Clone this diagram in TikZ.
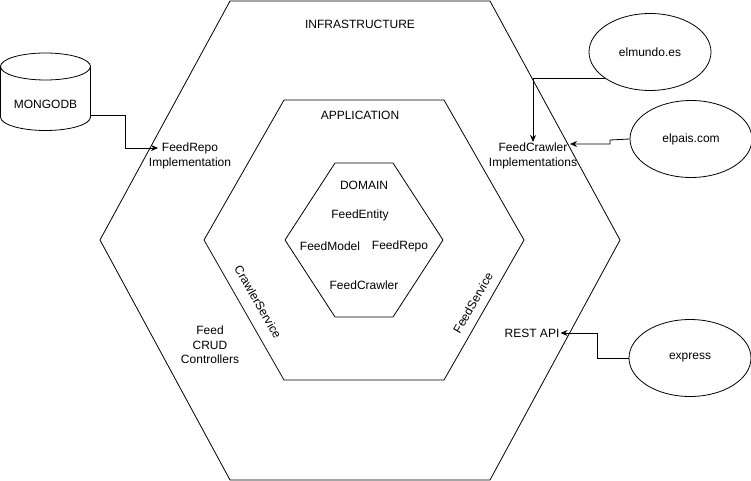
\documentclass[tikz,border=0pt]{standalone}
\usepackage{fontspec}
\setmainfont{Liberation Sans}
\usepackage{tikz}
\usetikzlibrary{calc}
\usetikzlibrary{shapes}
\usetikzlibrary{arrows.meta}

\tikzset{
  lbl/.style={font=\fontsize{12}{14.5}\selectfont,align=center,inner sep=1pt},
  site/.style={draw,ellipse,line width=0.8pt,minimum width=122pt,minimum height=77pt,inner sep=0pt,font=\fontsize{12}{14.5}\selectfont},
  link/.style={line width=0.8pt,-{Stealth[length=7pt,width=6pt]}},
  hexa/.style={draw,line width=0.8pt,line join=miter}
}

\begin{document}
\begin{tikzpicture}[x=1pt,y=-1pt]
      \useasboundingbox (0,0) rectangle (751,481);
      \draw[hexa] (230,1) -- (490,1) -- (620,240) -- (490,480) -- (230,480) -- (100,240) -- cycle;
      \draw[hexa] (284,100) -- (444,100) -- (524,240) -- (444,380) -- (284,380) -- (204,240) -- cycle;
      \draw[hexa] (335,163) -- (393,163) -- (443,240) -- (393,317) -- (335,317) -- (285,240) -- cycle;
      \node[lbl] (infra) at (360,24) {INFRASTRUCTURE};
      \node[lbl] (app) at (360,115) {APPLICATION};
      \node[lbl] (domain) at (364,185) {DOMAIN};
      \node[lbl] (entity) at (360,215) {FeedEntity};
      \node[lbl] (model) at (330,246) {FeedModel};
      \node[lbl] (repo) at (400,246) {FeedRepo};
      \node[lbl] (crawler) at (364,285) {FeedCrawler};
      \node[lbl,rotate=-60] (crawlsrv) at (258,302) {CrawlerService};
      \node[lbl,rotate=60] (feedsrv) at (473,303) {FeedService};
      \node[lbl] (crud) at (210,345) {Feed\\CRUD\\Controllers};
      \node[lbl] (repoimpl) at (190,156) {FeedRepo\\Implementation};
      \node[lbl] (crawlimpl) at (533,156) {FeedCrawler\\Implementations};
      \node[lbl] (rest) at (532,333) {REST API};
      \draw[hexa] (45.5,66.5) ellipse [x radius=45,y radius=13.5];
      \draw[hexa] (0.5,66.5) -- (0.5,117) arc [start angle=180,end angle=0,x radius=45,y radius=13.5] -- (90.5,66.5);
      \node[lbl,minimum width=91pt,minimum height=50pt] (mongo) at (45.5,104) {MONGODB};
      \node[site] (elmundo) at (650,52) {elmundo.es};
      \node[site] (elpais) at (691,139) {elpais.com};
      \node[site] (express) at (690,358) {express};
      \draw[link] ([yshift=-11pt]mongo.east) -| (125,148) -- (158,148);
      \draw[link] (elmundo.-150) -| (crawlimpl.north);
      \draw[link] (elpais.west) -- (610,140) -- (610,144) -- (570,144);
      \draw[link] (express.west) -| (597,333) -- (rest.east);
    \end{tikzpicture}
\end{document}
